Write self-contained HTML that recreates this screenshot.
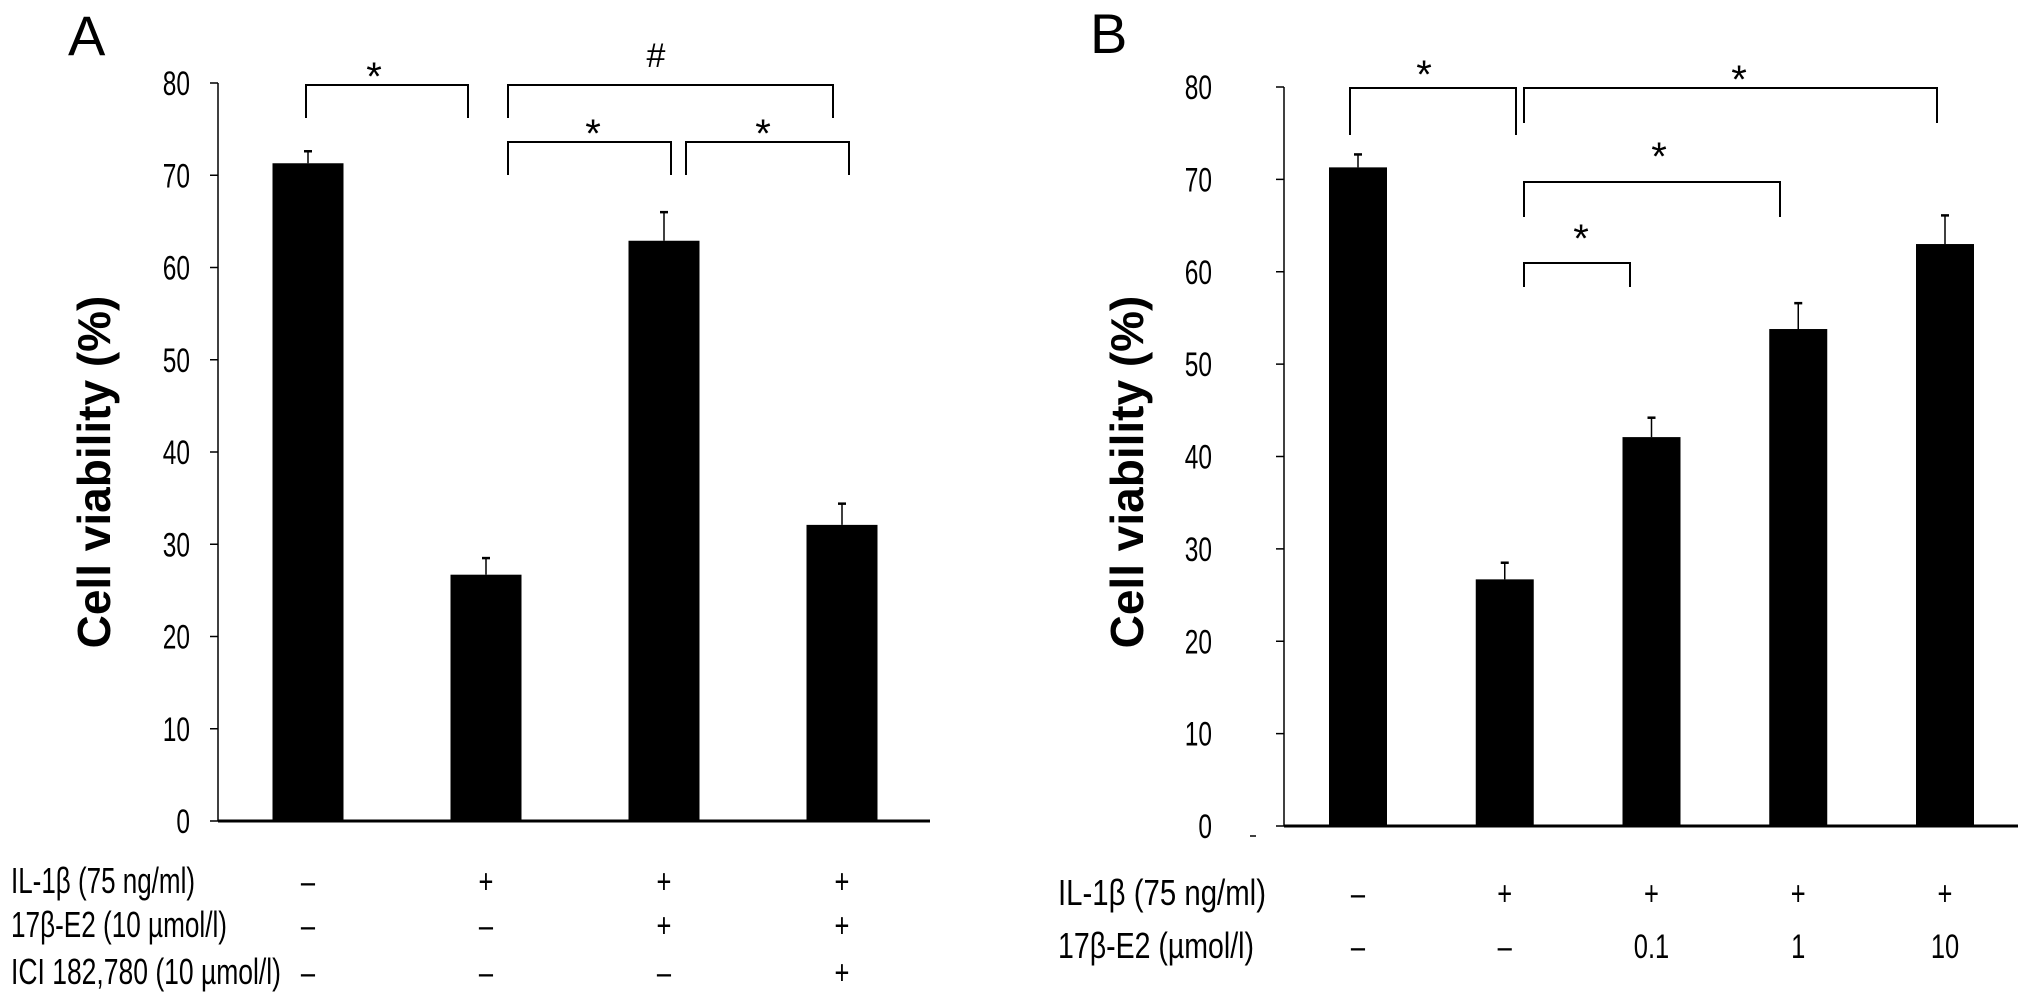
<!DOCTYPE html>
<html><head><meta charset="utf-8"><style>
html,body{margin:0;padding:0;background:#fff;}
svg{display:block;}
text{font-family:"Liberation Sans",sans-serif;fill:#000;}
</style></head><body>
<svg id="chart" width="2031" height="992" viewBox="0 0 2031 992" xmlns="http://www.w3.org/2000/svg">
<text x="68" y="55" font-size="56">A</text>
<text x="1090" y="53" font-size="56">B</text>
<text transform="translate(110,472) rotate(-90)" text-anchor="middle" font-size="46" font-weight="bold">Cell viability (%)</text>
<text transform="translate(1143,472) rotate(-90)" text-anchor="middle" font-size="46" font-weight="bold">Cell viability (%)</text>
<line x1="1250" y1="836" x2="1256" y2="836" stroke="#000" stroke-width="1.5"/>
</svg>
<script>
const ticks = [0,10,20,30,40,50,60,70,80];
const aValues = [71.3, 26.7, 62.9, 32.1];
const aErrors = [1.3, 1.8, 3.1, 2.3];
const aRow1 = ["–","+","+","+"];
const aRow2 = ["–","–","+","+"];
const aRow3 = ["–","–","–","+"];
const aRowLabels = ["IL-1β (75 ng/ml)","17β-E2 (10 µmol/l)","ICI 182,780 (10 µmol/l)"];
const bValues = [71.3, 26.7, 42.1, 53.8, 63.0];
const bErrors = [1.4, 1.8, 2.1, 2.8, 3.1];
const bRow1 = ["–","+","+","+","+"];
const bRow2 = ["–","–","0.1","1","10"];
const bRowLabels = ["IL-1β (75 ng/ml)","17β-E2 (µmol/l)"];

const svg = document.getElementById('chart');
const NS = 'http://www.w3.org/2000/svg';
function mk(tag, attrs){const e=document.createElementNS(NS,tag);for(const k in attrs)e.setAttribute(k,attrs[k]);svg.appendChild(e);return e;}
function line(x1,y1,x2,y2,w){return mk('line',{x1,y1,x2,y2,stroke:'#000','stroke-width':w||2});}
function ntext(str,x,y,size,anchor,sx,len){
  const t=mk('text',{transform:`translate(${x},${y}) scale(${sx},1)`,'font-size':size,'text-anchor':anchor});
  t.textContent=str;
  if(len){t.setAttribute('textLength',len/sx);t.setAttribute('lengthAdjust','spacingAndGlyphs');}
  return t;
}

function panel(cfg){
  const y=v=>cfg.y0-(v/80)*(cfg.y0-cfg.y80);
  const xc=i=>cfg.xFirst+i*cfg.step;
  const ax=line(cfg.axisX,cfg.y80,cfg.axisX,cfg.y0,1.5);
  
  
  const xa=line(cfg.axisX,cfg.y0,cfg.xEnd,cfg.y0,3);
  
  
  ticks.forEach(t=>{
    const tk=line(cfg.axisX-8,y(t),cfg.axisX,y(t),1.5);
    
    
    const tl=ntext(String(t),cfg.labelX,y(t)+12,34,'end',0.72);
    
    
  });
  cfg.values.forEach((v,i)=>{
    const b=mk('rect',{x:xc(i)-cfg.bw/2,y:y(v),width:cfg.bw,height:cfg.y0-y(v),fill:'#000'});
    
    
    const e=line(xc(i),y(v),xc(i),y(v+cfg.errors[i]),1.5);
    
    
    const c=line(xc(i)-4,y(v+cfg.errors[i]),xc(i)+4,y(v+cfg.errors[i]),2.5);
    
    
  });
  cfg.rows.forEach((row,r)=>{
    const lb=ntext(cfg.rowLabels[r],cfg.rowLabelX,cfg.rowY[r],36,'start',0.72,cfg.rowLabelW[r]);
    
    
    row.forEach((s,i)=>{
      const t=ntext(s,xc(i),cfg.rowY[r],34,'middle',0.75);
      
      
    });
  });
  cfg.brackets.forEach(b=>{
    const p=mk('path',{d:`M${b[0]},${b[3]} V${b[2]} H${b[1]} V${b[4]}`,fill:'none',stroke:'#000','stroke-width':2});
    
    
    const s=mk('text',{x:b[5],y:b[6],'font-size':b[7]=='#'?34:40,'text-anchor':'middle'});
    s.textContent=b[7];
    
    
  });
}

panel({p:'panel-a',axisX:218,y0:821,y80:83,xFirst:308,step:178,bw:71,xEnd:930,labelX:190,
  values:aValues,errors:aErrors,rows:[aRow1,aRow2,aRow3],rowLabels:aRowLabels,
  rowLabelX:11,rowY:[893,937,984],rowLabelW:[184,216,270],
  brackets:[[306,468,85,118,118,374,90,'*'],[508,833,85,118,118,656,67,'#'],
            [508,671,142,175,175,593,147,'*'],[686,849,142,175,175,763,147,'*']]});
panel({p:'panel-b',axisX:1284,y0:826,y80:87,xFirst:1358,step:146.75,bw:58,xEnd:2018,labelX:1212,
  values:bValues,errors:bErrors,rows:[bRow1,bRow2],rowLabels:bRowLabels,
  rowLabelX:1058,rowY:[905,958],rowLabelW:[208,196],
  brackets:[[1350,1516,88,135,135,1424,88,'*'],[1524,1937,88,123,123,1739,93,'*'],
            [1524,1780,182,217,217,1659,170,'*'],[1524,1630,263,287,287,1581,252,'*']]});
</script>
</body></html>
